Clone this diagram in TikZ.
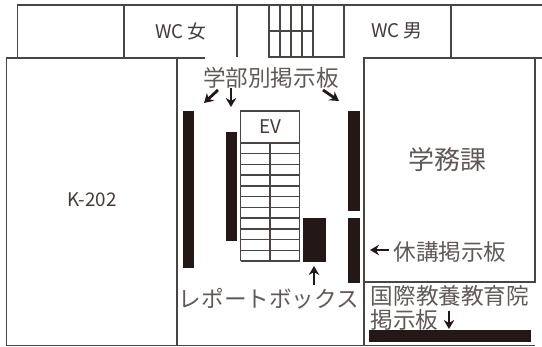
\documentclass[tikz,border=0pt]{standalone}
\usepackage{fontspec}
\setmainfont{Noto Sans CJK JP}
\usepackage{xcolor}
\usetikzlibrary{arrows.meta}
\definecolor{inkblack}{HTML}{231815}
\definecolor{wallgray}{HTML}{4A4443}
\tikzset{
    wall/.style={
        draw=wallgray,
        line width=1.4pt
    },
    pointer/.style={
        draw=inkblack,
        line width=2.8pt,
        -{Stealth[length=9pt, width=10.5pt]}
    },
    biglabel/.style={
        text=inkblack!72,
        inner sep=0pt,
        font=\fontsize{22.6}{24}\selectfont
    },
    roomlabel/.style={
        text=inkblack!85,
        inner sep=0pt,
        font=\fontsize{18.8}{20}\selectfont
    }
}

\begin{document}
\begin{tikzpicture}[x=1pt,y=-1pt]
  \useasboundingbox (0,0) rectangle (542,347);
  % Upper row of rooms
  \draw[wall] (17.5,58) -- (17.5,5) -- (542,5);
  \draw[wall] (6,58) -- (205,58);
  \draw[wall] (124,5) -- (124,58);
  \draw[wall] (237,5) -- (237,57);
  \draw[wall] (269,5) -- (269,57) -- (344,57) -- (344,5);
  \draw[wall] (451,5) -- (451,58);

  % Stairs
  \draw[wall] (269,31) -- (313,31);
  \foreach \x in {280,291,302,313}
    \draw[wall] (\x,5) -- (\x,57);

  % Rooms on both sides
  \draw[wall] (6.5,345.5) -- (6.5,58);
  \draw[wall] (177,58) -- (177,345.5);
  \draw[wall] (364,345.5) -- (364,58) -- (542,58);
  \draw[wall] (535,58) -- (535,282);
  \draw[wall] (364,282) -- (536,282);
  \draw[wall] (6,345.5) -- (535,345.5);

  % Elevator hall
  \draw[wall] (240.5,143) -- (240.5,111) -- (299.5,111) -- (299.5,143);
  \foreach \k in {0,...,11}
    \draw[wall] (240.5,143+\k*10.73) -- (299.5,143+\k*10.73);
  \draw[wall] (240.5,143) -- (240.5,261);
  \draw[wall] (270,143) -- (270,261);
  \draw[wall] (299.5,143) -- (299.5,261);

  % Boards
  \fill[inkblack] (182.5,111) rectangle (194,268);
  \fill[inkblack] (225.5,132) rectangle (237,241);
  \fill[inkblack] (348,111) rectangle (360,211);
  \fill[inkblack] (348,218) rectangle (360,283);
  \fill[inkblack] (303,218) rectangle (325.5,262);
  \fill[inkblack] (369,330) rectangle (531,342);

  % Labels
  \node[roomlabel] (wcf) at (181,31) {WC 女};
  \node[roomlabel] (wcm) at (397,31) {WC 男};
  \node[roomlabel] (ev) at (270,127) {EV};
  \node[roomlabel] (k202) at (92,200) {K-202};
  \node[biglabel] (faculty) at (271,78) {学部別掲示板};
  \node[biglabel, font=\fontsize{26}{28}\selectfont] (affairs) at (447,160) {学務課};
  \node[biglabel] (report) at (269,299) {レポートボックス};
  \node[biglabel] (closure) at (450,252) {休講掲示板};
  \node[biglabel] (intl) at (450,296) {国際教養教育院};
  \node[biglabel] (intlb) at (404.5,320) {掲示板};

  % Pointers
  \coordinate (p1s) at (218,90);
  \coordinate (p1e) at (204,103);
  \coordinate (p2s) at (231,88);
  \coordinate (p2e) at (231,107);
  \coordinate (p3s) at (323,90);
  \coordinate (p3e) at (339,101);
  \coordinate (p4s) at (314,285);
  \coordinate (p4e) at (314,266);
  \coordinate (p5s) at (389,250);
  \coordinate (p5e) at (370,250);
  \coordinate (p6s) at (449,311);
  \coordinate (p6e) at (449,329);
  \draw[pointer] (p1s) -- (p1e);
  \draw[pointer] (p2s) -- (p2e);
  \draw[pointer] (p3s) -- (p3e);
  \draw[pointer] (p4s) -- (p4e);
  \draw[pointer] (p5s) -- (p5e);
  \draw[pointer] (p6s) -- (p6e);
\end{tikzpicture}
\end{document}
